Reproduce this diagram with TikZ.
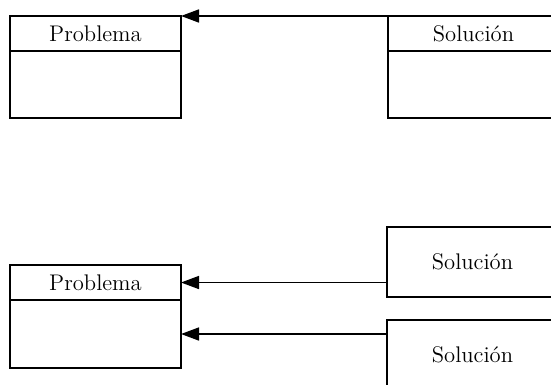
\documentclass[tikz,border=0pt]{standalone}
\usepackage{fontspec}
\usetikzlibrary{positioning}
\usetikzlibrary{arrows.meta}

\begin{document}
\begin{tikzpicture}[x=0.5pt, y=-0.5pt, line width=0.8pt,
        >={Triangle[length=9pt,width=6.5pt]},
        cls/.style={draw, rectangle, inner sep=0pt, outer sep=0pt,
            minimum width=85.5pt, font=\fontsize{11.3}{13}\selectfont}]
        \useasboundingbox (0,0) rectangle (551,385);
        \clip (0,0) rectangle (551,385);
        % una sola solucion
        \node[cls, minimum height=17.5pt] (P) at (95.5,33.5) {Problema};
        \node[cls, minimum height=33.5pt, below=0pt of P] (Pb) {};
        \node[cls, minimum height=17.5pt, right=103.5pt of P] (S) {Solución};
        \node[cls, minimum height=33.5pt, below=0pt of S] (Sb) {};
        \draw[<-] (P.north east) -- (S.north west);
        % varias soluciones
        \node[cls, minimum height=17.5pt] (Q) at (95.5,282.5) {Problema};
        \node[cls, minimum height=34pt, below=0pt of Q] (Qb) {};
        \node[cls, minimum height=35pt] (S1) at (472.5,262) {Solución};
        \node[cls, minimum height=35pt] (S2) at (472.5,355) {Solución};
        \draw[<-] (Q.east) -- (Q.east -| S1.west);
        \draw[<-] (Qb.east) -- (Qb.east -| S2.west);
    \end{tikzpicture}
\end{document}
